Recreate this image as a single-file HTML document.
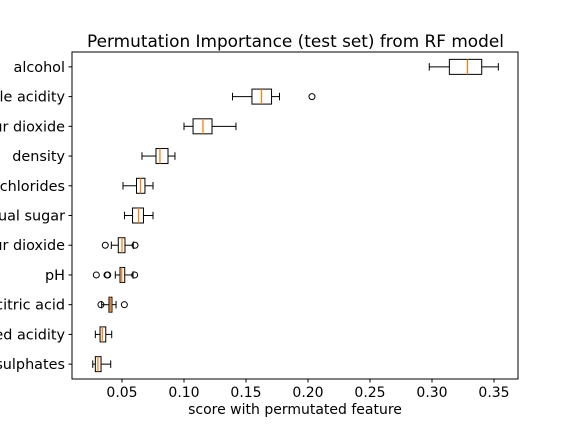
<!DOCTYPE html>
<html><head><meta charset="utf-8"><style>
body{margin:0;background:#fff;}
svg{display:block;font-family:"DejaVu Sans","Liberation Sans",sans-serif;}
</style></head><body>
<svg id="chart" width="576" height="432" viewBox="0 0 576 432">
<rect width="576" height="432" fill="#fff"/>
<text x="295.5" y="47" font-size="16.9" text-anchor="middle">Permutation Importance (test set) from RF model</text>
<g id="marks"></g>
<rect x="72" y="52" width="446" height="327" fill="none" stroke="#000" stroke-width="1"/>
<g id="axes"></g>
<text x="295" y="414" font-size="14" text-anchor="middle">score with permutated feature</text>
</svg>
<script>
const features = ["alcohol","volatile acidity","free sulfur dioxide","density","chlorides","residual sugar","total sulfur dioxide","pH","citric acid","fixed acidity","sulphates"];
const whiskLo = [0.2978,0.1391,0.1000,0.0661,0.0508,0.0520,0.0414,0.0446,0.0336,0.0285,0.0264];
const q1 =      [0.3140,0.1548,0.1073,0.0774,0.0617,0.0585,0.0470,0.0484,0.0395,0.0323,0.0285];
const med =     [0.3286,0.1625,0.1153,0.0806,0.0649,0.0633,0.0500,0.0498,0.0406,0.0341,0.0306];
const q3 =      [0.3401,0.1706,0.1226,0.0871,0.0685,0.0673,0.0524,0.0522,0.0419,0.0369,0.0331];
const whiskHi = [0.3535,0.1770,0.1419,0.0927,0.0750,0.0750,0.0591,0.0589,0.0452,0.0417,0.0409];
const outliers = [[],[0.2032],[],[],[],[],[0.0365,0.0605],[0.0293,0.0379,0.0385,0.0602],[0.0330,0.0519],[],[]];
const xTicks = [0.05,0.10,0.15,0.20,0.25,0.30,0.35];
const xTickLabels = ["0.05","0.10","0.15","0.20","0.25","0.30","0.35"];

const NS="http://www.w3.org/2000/svg";
const xs = v => 122 + (v-0.05)*1240;
const rowH = 327/features.length;
const ys = i => 52 + (i+0.5)*rowH;
const marks=document.getElementById('marks'), axes=document.getElementById('axes');
function mk(tag, attrs, parent){const e=document.createElementNS(NS,tag);for(const k in attrs)e.setAttribute(k,attrs[k]);parent.appendChild(e);return e;}
const bh=15, ch=7.5;
features.forEach((f,i)=>{
  const y=ys(i);
  const g=mk('g',{},marks);
  
  
  mk('line',{x1:xs(whiskLo[i]),x2:xs(q1[i]),y1:y,y2:y,stroke:'#000'},g);
  mk('line',{x1:xs(q3[i]),x2:xs(whiskHi[i]),y1:y,y2:y,stroke:'#000'},g);
  mk('line',{x1:xs(whiskLo[i]),x2:xs(whiskLo[i]),y1:y-ch/2,y2:y+ch/2,stroke:'#000'},g);
  mk('line',{x1:xs(whiskHi[i]),x2:xs(whiskHi[i]),y1:y-ch/2,y2:y+ch/2,stroke:'#000'},g);
  mk('rect',{x:xs(q1[i]),y:y-bh/2,width:xs(q3[i])-xs(q1[i]),height:bh,fill:'none',stroke:'#000'},g);
  mk('line',{x1:xs(med[i]),x2:xs(med[i]),y1:y-bh/2,y2:y+bh/2,stroke:'#ff7f0e','stroke-width':1.3},g);
  outliers[i].forEach(o=>{mk('circle',{cx:xs(o),cy:y,r:3,fill:'none',stroke:'#000'},g);});
  const t=mk('text',{x:65,y:y+5,'font-size':14.4,'text-anchor':'end'},axes);
  t.textContent=f;
  
  
  mk('line',{x1:68.5,x2:72,y1:y,y2:y,stroke:'#000'},axes);
});
xTicks.forEach((v,i)=>{
  const x=xs(v);
  mk('line',{x1:x,x2:x,y1:379,y2:382.5,stroke:'#000'},axes);
  const t=mk('text',{x:x,y:397,'font-size':14,'text-anchor':'middle'},axes);
  t.textContent=xTickLabels[i];
  
  
});
</script>
</body></html>
